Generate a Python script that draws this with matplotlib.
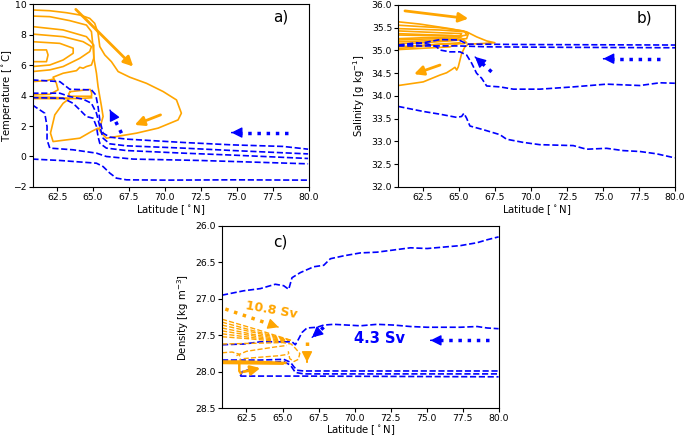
import numpy as np
import matplotlib
matplotlib.use('Agg')
import matplotlib.pyplot as plt

plt.rcParams['font.size'] = 7.3
plt.rcParams['xtick.labelsize'] = 6.7
plt.rcParams['ytick.labelsize'] = 6.7
plt.rcParams['xtick.major.pad'] = 1.5
plt.rcParams['ytick.major.pad'] = 1.5
plt.rcParams['xtick.major.size'] = 3
plt.rcParams['ytick.major.size'] = 3

ORANGE = '#ffa500'
BLUE = '#0000ff'

#### panel a: latitude vs temperature
a_orange = [
    ([60.78, 61.76, 61.87, 61.76, 60.78], [6.99, 6.99, 6.66, 6.22, 6.22]),
    ([60.78, 62.69, 63.62, 63.62, 62.92, 61.99, 60.78], [7.53, 7.42, 7.10, 6.77, 6.33, 6.00, 5.90]),
    ([60.78, 62.92, 64.31, 64.89, 64.77, 64.08, 62.92, 61.99, 60.78],
     [8.03, 7.86, 7.53, 7.21, 6.88, 6.44, 5.90, 5.68, 5.57]),
    ([60.78, 62.92, 64.54, 65.05, 65.05, 64.89, 64.54, 64.31, 64.08, 63.85, 62.92, 62.22, 62.45, 62.57, 61.99, 60.78],
     [8.52, 8.30, 7.86, 7.31, 6.44, 6.00, 5.90, 5.79, 5.85, 5.63, 5.46, 5.20, 4.80, 4.37, 4.08, 4.04]),
    ([60.78, 61.99, 63.38, 64.54, 64.89, 65.00, 65.08, 65.24, 65.35, 65.47, 65.59, 65.70, 65.47],
     [9.21, 9.17, 8.91, 8.62, 8.19, 7.21, 6.33, 5.46, 4.59, 3.93, 3.28, 2.62, 1.86]),
    ([60.78, 61.99, 63.15, 64.08, 64.77, 65.12, 65.35, 65.47, 65.82, 66.28, 66.75, 67.56, 68.72, 69.88, 70.81,
      71.15, 70.92, 69.53, 68.02, 66.63, 65.93, 65.59, 65.35, 64.89, 64.08, 62.22, 62.04, 62.34, 62.92, 63.38,
      61.99, 60.78],
     [9.61, 9.56, 9.43, 9.28, 9.06, 8.73, 8.08, 7.21, 6.66, 6.22, 5.57, 5.20, 4.80, 4.26, 3.71,
      2.84, 2.40, 1.86, 1.53, 1.31, 1.20, 1.53, 1.86, 1.64, 1.20, 0.98, 1.53, 2.73, 3.49, 3.82,
      3.89, 3.89]),
    ([63.4, 64.8, 64.9, 64.9, 63.4, 63.3, 63.4], [4.25, 4.40, 4.20, 3.95, 3.95, 4.10, 4.25]),
    ([60.78, 62.5, 64.0, 64.9], [3.80, 3.79, 3.80, 3.85]),
    ([60.78, 61.76, 62.22], [4.91, 4.98, 5.07]),
]
a_blue = [
    ([60.78, 62.69, 63.38, 64.89, 65.19, 65.35, 65.47, 65.70, 66.17, 67.33, 71.27, 74.75, 78.23, 79.97],
     [5.02, 4.91, 4.41, 4.37, 4.04, 3.28, 2.40, 1.53, 1.27, 1.14, 0.92, 0.76, 0.66, 0.48]),
    ([60.78, 62.69, 63.38, 64.31, 64.89, 65.24, 65.47, 65.70, 66.17, 67.33, 71.27, 74.75, 79.97],
     [4.15, 4.15, 3.93, 3.76, 3.49, 2.84, 1.97, 1.20, 0.83, 0.70, 0.55, 0.39, 0.17]),
    ([60.78, 62.92, 63.61, 64.08, 64.54, 65.01, 65.24, 65.35, 65.47, 65.93, 67.33, 71.27, 74.75, 79.97],
     [3.86, 3.82, 3.49, 3.06, 2.62, 2.51, 1.97, 1.31, 0.87, 0.55, 0.39, 0.22, 0.09, -0.13]),
    ([60.78, 61.64, 61.80, 61.80, 61.99, 63.61, 65.24, 65.93, 67.79, 72.43, 79.97],
     [3.38, 2.84, 1.97, 1.09, 0.55, 0.44, 0.22, 0.00, -0.17, -0.26, -0.48]),
    ([60.78, 62.69, 65.24, 65.70, 66.17, 66.63, 67.33, 70.11, 74.75, 79.97],
     [-0.17, -0.26, -0.44, -0.66, -1.09, -1.42, -1.53, -1.55, -1.53, -1.55]),
]
# arrows: (tail, head)
a_orange_arrows = [((63.8, 9.65), (67.8, 5.9)), ((69.7, 2.73), (67.9, 2.07))]
a_blue_arrows = [((66.98, 1.53), (66.17, 3.06)), ((78.58, 1.57), (74.63, 1.57))]

#### panel b: latitude vs salinity
b_orange = [
    ([60.8, 62.3, 64.38, 65.54, 66.23, 66.93, 67.5, 66.46, 65.66, 65.42, 65.19, 65.08, 64.96, 64.85, 64.73,
      64.5, 64.15, 63.69, 62.53, 60.8],
     [35.63, 35.58, 35.48, 35.41, 35.30, 35.21, 35.17, 35.15, 35.14, 35.08, 34.93, 34.79, 34.64, 34.57, 34.63,
      34.58, 34.51, 34.46, 34.31, 34.23]),
    ([60.8, 63.69, 65.31, 65.66, 65.54, 64.61, 62.53, 60.8], [35.555, 35.50, 35.43, 35.37, 35.26, 35.24, 35.21, 35.19]),
    ([60.8, 63.69, 65.42, 65.54, 64.85, 62.53, 60.8], [35.48, 35.45, 35.41, 35.34, 35.30, 35.28, 35.26]),
    ([60.8, 63.69, 65.19, 65.08, 62.53, 60.8], [35.43, 35.39, 35.37, 35.32, 35.33, 35.34]),
    ([60.8, 62.5, 64.5, 65.2, 64.9, 62.5, 60.8], [35.37, 35.35, 35.33, 35.30, 35.27, 35.25, 35.23]),
    ([60.8, 62.53, 64.38, 65.31, 65.54, 65.31, 63.69, 60.8], [35.15, 35.17, 35.21, 35.24, 35.17, 35.15, 35.14, 35.04]),
    ([60.8, 63.69, 65.08, 64.38, 60.8], [35.08, 35.14, 35.17, 35.08, 35.02]),
]
b_blue = [
    ([60.8, 62.53, 63.69, 64.85, 65.19, 65.35, 65.54, 65.77, 66.69, 67.85, 68.31, 69.47, 70.62, 72.94, 73.86,
      75.25, 76.4, 77.56, 78.71, 79.99],
     [33.77, 33.66, 33.60, 33.53, 33.55, 33.62, 33.51, 33.34, 33.26, 33.15, 33.05, 32.98, 32.93, 32.91, 32.83,
      32.85, 32.80, 32.78, 32.73, 32.64]),
    ([60.8, 62.07, 62.88, 63.46, 63.69, 64.38, 65.08, 65.54, 65.89, 66.23, 66.58, 66.93, 67.85, 68.78, 70.62,
      72.94, 75.25, 77.56, 78.95, 79.99],
     [35.12, 35.17, 35.14, 35.08, 35.01, 34.97, 34.97, 34.90, 34.72, 34.50, 34.39, 34.22, 34.20, 34.15, 34.15,
      34.20, 34.26, 34.23, 34.29, 34.28]),
    ([60.8, 62.2, 63.7, 65.0, 65.6, 70.0, 80.0], [35.11, 35.15, 35.24, 35.23, 35.14, 35.13, 35.12]),
    ([60.8, 65.0, 67.0, 72.0, 80.0], [35.10, 35.10, 35.08, 35.07, 35.06]),
]
b_orange_arrows = [((61.26, 35.87), (65.66, 35.70)), ((63.69, 34.68), (61.89, 34.48))]
b_blue_arrows = [((67.27, 34.53), (66.12, 34.86)), ((78.95, 34.82), (75.02, 34.82))]

#### panel c: latitude vs density
c_blue = [
    ([60.8, 62.3, 63.46, 64.5, 65.08, 65.43, 65.66, 66.24, 67.17, 67.86, 68.32, 69.25, 70.41, 71.56, 72.72,
      73.88, 75.04, 76.19, 77.35, 78.51, 79.2, 80.0],
     [26.95, 26.89, 26.86, 26.80, 26.82, 26.87, 26.71, 26.64, 26.56, 26.54, 26.45, 26.41, 26.37, 26.36, 26.33,
      26.30, 26.31, 26.29, 26.27, 26.23, 26.19, 26.15]),
    ([60.8, 62.3, 63.46, 64.62, 65.66, 65.89, 66.12, 66.36, 66.7, 67.4, 67.86, 68.55, 70.41, 71.56, 72.72,
      73.88, 75.04, 76.19, 77.35, 78.51, 79.2, 80.0],
     [27.63, 27.62, 27.59, 27.59, 27.59, 27.63, 27.55, 27.46, 27.40, 27.39, 27.36, 27.35, 27.37, 27.35, 27.36,
      27.38, 27.39, 27.39, 27.39, 27.38, 27.40, 27.41]),
    ([60.8, 63.46, 65.08, 65.55, 65.78, 66.01, 66.47, 68.09, 72.72, 80.0],
     [27.84, 27.84, 27.83, 27.87, 27.93, 27.98, 27.99, 27.99, 27.99, 27.99]),
    ([60.8, 63.46, 65.08, 65.55, 65.89, 66.47, 70.41, 80.0],
     [27.87, 27.88, 27.86, 27.91, 28.01, 28.03, 28.03, 28.03]),
    ([62.07, 66.0, 80.0], [28.06, 28.06, 28.07]),
    ([62.07, 62.2, 62.7, 63.3], [28.06, 28.00, 27.97, 27.96]),
]
c_orange_dashed = [
    ([60.8, 63.2, 65.6], [27.28, 27.42, 27.57]),
    ([60.8, 63.2, 65.6], [27.32, 27.45, 27.57]),
    ([60.8, 63.2, 65.5], [27.36, 27.47, 27.57]),
    ([60.8, 63.0, 65.4], [27.40, 27.49, 27.57]),
    ([60.8, 63.0, 65.3], [27.44, 27.51, 27.58]),
    ([60.8, 62.8, 65.1], [27.48, 27.53, 27.58]),
    ([60.8, 62.8, 65.0], [27.52, 27.55, 27.59]),
    ([60.8, 63.0, 65.0, 65.6, 65.9, 66.2, 66.1, 65.8, 65.5, 65.4],
     [27.62, 27.61, 27.60, 27.62, 27.68, 27.75, 27.83, 27.86, 27.82, 27.72]),
    ([61.8, 62.5, 63.5, 64.5, 65.3], [27.78, 27.72, 27.69, 27.66, 27.64]),
    ([60.8, 61.5, 62.0, 62.1], [27.74, 27.73, 27.76, 27.85]),
    ([62.3, 63.5, 64.8, 65.4], [27.82, 27.80, 27.78, 27.76]),
]
c_orange_solid = [
    ([60.8, 62.0, 64.0, 65.2], [27.86, 27.86, 27.87, 27.88]),
    ([60.8, 63.0, 65.0], [27.88, 27.885, 27.89]),
    ([62.0, 62.0, 62.1], [27.87, 27.99, 28.02]),
]
c_orange_dotted_arrows = [((61.03, 27.14), (64.74, 27.39)), ((66.7, 27.59), (66.7, 27.87))]
c_orange_arrows = [((62.3, 28.0), (63.46, 27.95))]
c_blue_arrows = [((67.86, 27.39), (67.05, 27.53)), ((79.3, 27.57), (75.27, 27.57))]


def solid_arrow(ax, tail, head, color):
    ax.annotate('', xy=head, xytext=tail,
                arrowprops=dict(arrowstyle='-|>', color=color, lw=2, mutation_scale=14,
                                shrinkA=0, shrinkB=0))


def dotted_arrow(ax, tail, head, color):
    tail = np.array(tail)
    head = np.array(head)
    v = head - tail
    stop = tail + 0.85 * v
    ax.plot([tail[0], stop[0]], [tail[1], stop[1]], ls=':', color=color, lw=2.5)
    ax.annotate('', xy=head, xytext=head - 0.01 * v,
                arrowprops=dict(arrowstyle='-|>', color=color, lw=1, mutation_scale=16,
                                shrinkA=0, shrinkB=0))


lat_ticks = [62.5, 65.0, 67.5, 70.0, 72.5, 75.0, 77.5, 80.0]

fig = plt.figure(figsize=(6.85, 4.37), dpi=100)
ax_a = fig.add_axes([0.0477, 0.5721, 0.4027, 0.4187])
ax_b = fig.add_axes([0.5815, 0.5721, 0.4039, 0.4165])
ax_c = fig.add_axes([0.3241, 0.066, 0.4038, 0.4170])

# a)
for lat, val in a_orange:
    ax_a.plot(lat, val, color=ORANGE, lw=1.2)
for lat, val in a_blue:
    ax_a.plot(lat, val, color=BLUE, ls='--', lw=1.2)
for t, h in a_orange_arrows:
    solid_arrow(ax_a, t, h, ORANGE)
for t, h in a_blue_arrows:
    dotted_arrow(ax_a, t, h, BLUE)
ax_a.set_xlim(60.8, 80)
ax_a.set_ylim(-2, 10)
ax_a.set_xticks(lat_ticks)
ax_a.set_ylabel('Temperature [$^\\circ$C]')
ax_a.yaxis.set_label_coords(-0.066, 0.5)
ax_a.set_xlabel('Latitude [$^\\circ$N]', labelpad=1)
ax_a.text(0.9, 0.93, 'a)', transform=ax_a.transAxes, fontsize=11, ha='center', va='center')

# b)
for lat, val in b_orange:
    ax_b.plot(lat, val, color=ORANGE, lw=1.2)
for lat, val in b_blue:
    ax_b.plot(lat, val, color=BLUE, ls='--', lw=1.2)
for t, h in b_orange_arrows:
    solid_arrow(ax_b, t, h, ORANGE)
for t, h in b_blue_arrows:
    dotted_arrow(ax_b, t, h, BLUE)
ax_b.set_xlim(60.8, 80)
ax_b.set_ylim(32, 36)
ax_b.set_xticks(lat_ticks)
ax_b.set_yticks(np.arange(32, 36.01, 0.5))
ax_b.set_ylabel('Salinity [g kg$^{-1}$]', labelpad=3)
ax_b.set_xlabel('Latitude [$^\\circ$N]', labelpad=1)
ax_b.text(0.89, 0.93, 'b)', transform=ax_b.transAxes, fontsize=11, ha='center', va='center')

# c)
for lat, val in c_blue:
    ax_c.plot(lat, val, color=BLUE, ls='--', lw=1.2)
for lat, val in c_orange_dashed:
    ax_c.plot(lat, val, color=ORANGE, ls='--', lw=1.0)
for lat, val in c_orange_solid:
    ax_c.plot(lat, val, color=ORANGE, lw=1.8)
for t, h in c_orange_dotted_arrows:
    dotted_arrow(ax_c, t, h, ORANGE)
for t, h in c_orange_arrows:
    solid_arrow(ax_c, t, h, ORANGE)
for t, h in c_blue_arrows:
    dotted_arrow(ax_c, t, h, BLUE)
ax_c.text(64.2, 27.16, '10.8 Sv', color=ORANGE, fontsize=9, fontweight='bold',
          rotation=-10, ha='center', va='center')
ax_c.text(71.7, 27.55, '4.3 Sv', color=BLUE, fontsize=10.5, fontweight='bold', ha='center', va='center')
ax_c.set_xlim(60.8, 80)
ax_c.set_ylim(28.5, 26.0)
ax_c.set_xticks(lat_ticks)
ax_c.set_yticks(np.arange(26, 28.51, 0.5))
ax_c.set_ylabel('Density [kg m$^{-3}$]', labelpad=3)
ax_c.set_xlabel('Latitude [$^\\circ$N]')
ax_c.xaxis.set_label_coords(0.5, -0.085)
ax_c.text(0.21, 0.91, 'c)', transform=ax_c.transAxes, fontsize=11, ha='center', va='center')

fig.savefig('out.png', dpi=100)
